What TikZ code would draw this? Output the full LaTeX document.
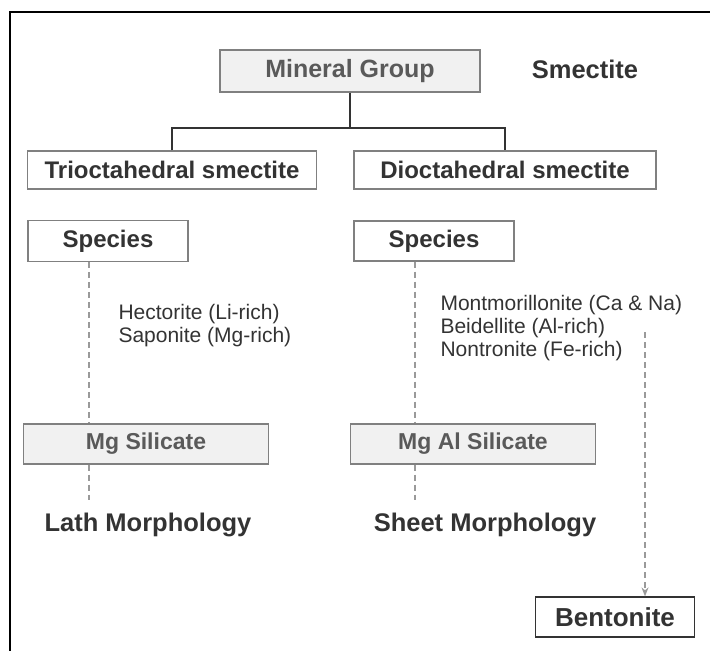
\documentclass[tikz,border=0pt]{standalone}
\usepackage{fontspec}
\setmainfont{Liberation Sans}
\usetikzlibrary{arrows.meta}
\definecolor{boxgray}{HTML}{F1F1F1}
\definecolor{edgegray}{HTML}{808080}
\definecolor{inkdark}{HTML}{333333}
\definecolor{inkgray}{HTML}{5A5A5A}
\definecolor{dashgray}{HTML}{9A9A9A}
\begin{document}
\begin{tikzpicture}[x=1pt, y=-1pt,
    greybox/.style={draw=edgegray, fill=boxgray, line width=1.2pt, text=inkgray,
      font=\fontsize{23}{26}\selectfont\bfseries, inner sep=0pt},
    whitebox/.style={draw=edgegray, fill=white, line width=1.2pt, text=inkdark,
      font=\fontsize{24}{26}\selectfont\bfseries, inner sep=0pt},
    headtext/.style={text=inkdark, font=\fontsize{25.5}{28}\selectfont\bfseries},
    listtext/.style={text=inkdark, align=left, anchor=west,
      font=\fontsize{21}{23}\selectfont},
    dashlink/.style={draw=dashgray, line width=1.3pt, dash pattern=on 6pt off 4pt}]
  \useasboundingbox (0,0) rectangle (710,651);
  \draw[line width=2pt] (10,651) -- (10,12) -- (710,12);
  % top level
  \node (mineral)[greybox, font=\fontsize{25}{28}\selectfont\bfseries, minimum width=260pt, minimum height=42pt] at (350,71) {Mineral Group};
  \node (smectite)[headtext] at (585,69) {Smectite};
  \node (trioct)[whitebox, minimum width=289pt, minimum height=38pt] at (172,170) {Trioctahedral smectite};
  \node (dioct)[whitebox, minimum width=302pt, minimum height=38pt] at (505,170) {Dioctahedral smectite};
  \coordinate (split) at (350,128);
  \draw[line width=1.3pt, inkdark] (mineral.south) -- (split);
  \draw[line width=1.3pt, inkdark] (trioct.north) |- (split) -| (dioct.north);
  % species
  \node (specleft)[whitebox, minimum width=160pt, minimum height=41pt] at (108,241) {Species};
  \node (specright)[whitebox, minimum width=160pt, minimum height=40pt] at (434,241) {Species};
  \node (trilist)[listtext] at (115,326) {Hectorite (Li-rich)\\Saponite (Mg-rich)};
  \node (dilist)[listtext] at (437,328) {Montmorillonite (Ca \& Na)\\Beidellite (Al-rich)\\Nontronite (Fe-rich)};
  % silicates
  \node (mgsil)[greybox, minimum width=245pt, minimum height=40pt] at (146,444) {Mg Silicate};
  \node (mgalsil)[greybox, minimum width=245pt, minimum height=40pt] at (473,444) {Mg Al Silicate};
  \node (lath)[headtext] at (148,525) {Lath Morphology};
  \node (sheet)[headtext] at (485,525) {Sheet Morphology};
  \node (bentonite)[whitebox, draw=inkdark, font=\fontsize{26}{28}\selectfont\bfseries, minimum width=159pt, minimum height=40pt] at (615,617) {Bentonite};
  % dashed links
  \coordinate (leftx) at (89,0);
  \coordinate (rightx) at (415,0);
  \coordinate (leftend) at (89,500);
  \coordinate (rightend) at (415,500);
  \coordinate (arrowtop) at (645,332);
  \draw[dashlink] (specleft.south -| leftx) -- (mgsil.north -| leftx);
  \draw[dashlink] (mgsil.south -| leftx) -- (leftend);
  \draw[dashlink] (specright.south -| rightx) -- (mgalsil.north -| rightx);
  \draw[dashlink] (mgalsil.south -| rightx) -- (rightend);
  \draw[dashlink, -{Stealth[length=9pt, width=7pt]}] (arrowtop) -- (bentonite.north -| arrowtop);
\end{tikzpicture}
\end{document}
